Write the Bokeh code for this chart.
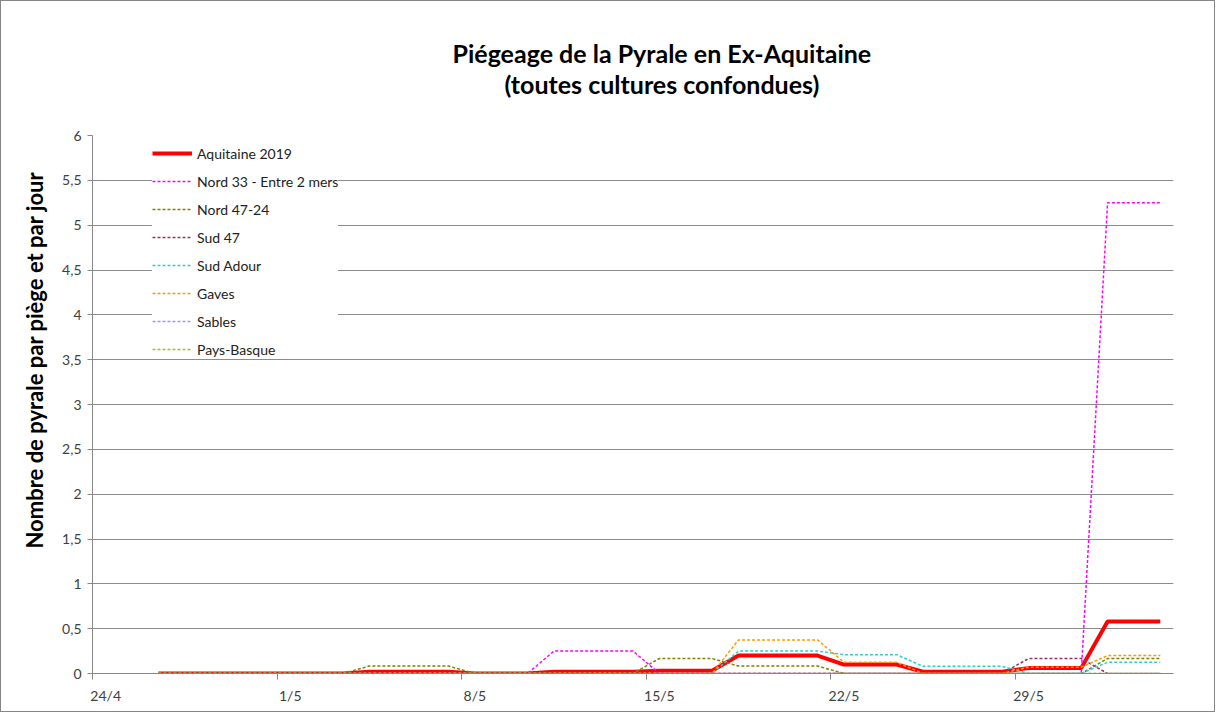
import pandas as pd
from bokeh.plotting import figure
from bokeh.models import (FixedTicker, Legend, LegendItem, Range1d, Title,
                          ColumnDataSource, CustomJSTickFormatter)
from bokeh.embed import file_html
from bokeh.resources import INLINE

# ---------------- data ----------------
dates = pd.date_range("2019-04-26", "2019-06-03", freq="D")  # 39 daily readings
axis_start = pd.Timestamp("2019-04-24")
tick_dates = ["2019-04-24", "2019-05-01", "2019-05-08", "2019-05-15", "2019-05-22", "2019-05-29"]
tick_labels = ["24/4", "1/5", "8/5", "15/5", "22/5", "29/5"]
y_ticks = [0, 0.5, 1, 1.5, 2, 2.5, 3, 3.5, 4, 4.5, 5, 5.5, 6]

#             26/4 ...30/4 | 1/5 ........................................ 31/5 | 1/6..3/6
aquitaine   = [0, 0, 0, 0, 0, 0, 0, 0, 0.02, 0.02, 0.02, 0.02, 0, 0, 0,
               0.02, 0.02, 0.02, 0.02, 0.03, 0.03, 0.03, 0.2, 0.2, 0.2, 0.2,
               0.1, 0.1, 0.1, 0.02, 0.02, 0.02, 0.02, 0.06, 0.06, 0.06,
               0.58, 0.58, 0.58]
nord33      = [0, 0, 0, 0, 0, 0, 0, 0, 0, 0, 0, 0, 0, 0, 0,
               0.25, 0.25, 0.25, 0.25, 0, 0, 0, 0, 0, 0, 0,
               0, 0, 0, 0, 0, 0, 0, 0, 0, 0,
               5.25, 5.25, 5.25]
nord4724    = [0, 0, 0, 0, 0, 0, 0, 0, 0.083, 0.083, 0.083, 0.083, 0, 0, 0,
               0, 0, 0, 0, 0.167, 0.167, 0.167, 0.083, 0.083, 0.083, 0.083,
               0, 0, 0, 0, 0, 0, 0, 0, 0, 0,
               0.167, 0.167, 0.167]
sud47       = [0, 0, 0, 0, 0, 0, 0, 0, 0, 0, 0, 0, 0, 0, 0,
               0, 0, 0, 0, 0, 0, 0, 0, 0, 0, 0,
               0, 0, 0, 0, 0, 0, 0, 0.167, 0.167, 0.167,
               0, 0, 0]
sud_adour   = [0, 0, 0, 0, 0, 0, 0, 0, 0, 0, 0, 0, 0, 0, 0,
               0, 0, 0, 0, 0, 0, 0, 0.25, 0.25, 0.25, 0.25,
               0.21, 0.21, 0.21, 0.08, 0.08, 0.08, 0.08, 0, 0, 0,
               0.125, 0.125, 0.125]
gaves       = [0, 0, 0, 0, 0, 0, 0, 0, 0, 0, 0, 0, 0, 0, 0,
               0, 0, 0, 0, 0, 0, 0, 0.375, 0.375, 0.375, 0.375,
               0.125, 0.125, 0.125, 0, 0, 0, 0, 0.07, 0.07, 0.07,
               0.2, 0.2, 0.2]
sables      = [0, 0, 0, 0, 0, 0, 0, 0, 0, 0, 0, 0, 0, 0, 0,
               0, 0, 0, 0, 0, 0, 0, 0, 0, 0, 0,
               0, 0, 0, 0, 0, 0, 0, 0, 0, 0,
               0, 0, 0]
pays_basque = [0, 0, 0, 0, 0, 0, 0, 0, 0, 0, 0, 0, 0, 0, 0,
               0, 0, 0, 0, 0, 0, 0, 0, 0, 0, 0,
               0, 0, 0, 0, 0, 0, 0, 0, 0, 0,
               0, 0, 0]

series_names = ["Aquitaine 2019", "Nord 33 - Entre 2 mers", "Nord 47-24", "Sud 47",
                "Sud Adour", "Gaves", "Sables", "Pays-Basque"]
series_values = [aquitaine, nord33, nord4724, sud47, sud_adour, gaves, sables, pays_basque]
series_colors = ["#FF0000", "#FF00FF", "#808000", "#993366",
                 "#33CCCC", "#FF9900", "#9999FF", "#99CC00"]

title_line1 = "Piégeage de la Pyrale en Ex-Aquitaine"
title_line2 = "(toutes cultures confondues)"
y_title = "Nombre de pyrale par piège et par jour"

# ---------------- figure ----------------
FONT = "Lato"
# day offsets (Excel date axis: each reading is drawn in the middle of its day slot)
x_days = [(d - axis_start).days + 0.5 for d in dates]
tick_pos = [(pd.Timestamp(t) - axis_start).days for t in tick_dates]

p = figure(width=1215, height=712, output_backend="svg", toolbar_location=None, title=None,
           x_range=Range1d(0, 41), y_range=Range1d(0, 6),
           min_border_left=91, min_border_right=43, min_border_top=134, min_border_bottom=40)
p.styles = {"border": "1px solid #868686"}
p.outline_line_color = None
p.background_fill_color = "white"
p.border_fill_color = "white"

# grid
p.xgrid.grid_line_color = None
p.ygrid.grid_line_color = "#8c8c8c"
p.ygrid.grid_line_width = 1
p.ygrid.ticker = FixedTicker(ticks=y_ticks)

# y axis
p.yaxis.ticker = FixedTicker(ticks=y_ticks)
p.yaxis.formatter = CustomJSTickFormatter(code="return tick.toString().replace('.', ',');")
p.yaxis.axis_line_color = "#868686"
p.yaxis.major_tick_line_color = "#868686"
p.yaxis.major_tick_out = 5
p.yaxis.major_tick_in = 0
p.yaxis.minor_tick_line_color = None
p.yaxis.major_label_standoff = 6
p.yaxis.major_label_text_font = FONT
p.yaxis.major_label_text_font_size = "14px"
p.yaxis.major_label_text_color = "#404040"

# x axis: labels centred in the day slot, tick marks at the day boundary
p.xaxis.ticker = FixedTicker(ticks=[t + 0.5 for t in tick_pos], minor_ticks=tick_pos)
p.xaxis.major_label_overrides = {t + 0.5: lab for t, lab in zip(tick_pos, tick_labels)}
p.xaxis.axis_line_color = "#868686"
p.xaxis.major_tick_out = 0
p.xaxis.major_tick_in = 0
p.xaxis.minor_tick_out = 6
p.xaxis.minor_tick_in = 0
p.xaxis.minor_tick_line_color = "#868686"
p.xaxis.major_label_standoff = 7
p.xaxis.major_label_text_font = FONT
p.xaxis.major_label_text_font_size = "14px"
p.xaxis.major_label_text_color = "#404040"

# series
items = []
for name, vals, col in zip(series_names, series_values, series_colors):
    src = ColumnDataSource(dict(x=x_days, y=vals))
    if name == "Aquitaine 2019":
        r = p.line("x", "y", source=src, line_color=col, line_width=4)
    else:
        r = p.line("x", "y", source=src, line_color=col, line_width=1.5, line_dash="3 2")
    items.append(LegendItem(label=name, renderers=[r]))

legend = Legend(items=items, location=(60, 314), glyph_width=40, glyph_height=20,
                label_height=20, spacing=8, padding=5, margin=0, label_standoff=5,
                border_line_color=None, background_fill_color="white", background_fill_alpha=1,
                label_text_font=FONT, label_text_font_size="14px", label_text_color="#222222")
p.add_layout(legend)

# titles: the first one added "above" sits closest to the plot
p.add_layout(Title(text=title_line2, align="left", offset=412, standoff=73,
                   text_font=FONT, text_font_size="25px", text_font_style="bold",
                   text_color="#000000"), "above")
p.add_layout(Title(text=title_line1, align="left", offset=360, standoff=-75,
                   text_font=FONT, text_font_size="25px", text_font_style="bold",
                   text_color="#000000"), "above")
p.add_layout(Title(text=y_title, align="left", offset=125, standoff=24,
                   text_font=FONT, text_font_size="22px", text_font_style="bold",
                   text_color="#000000"), "left")

open("out.html", "w").write(file_html(p, INLINE))
